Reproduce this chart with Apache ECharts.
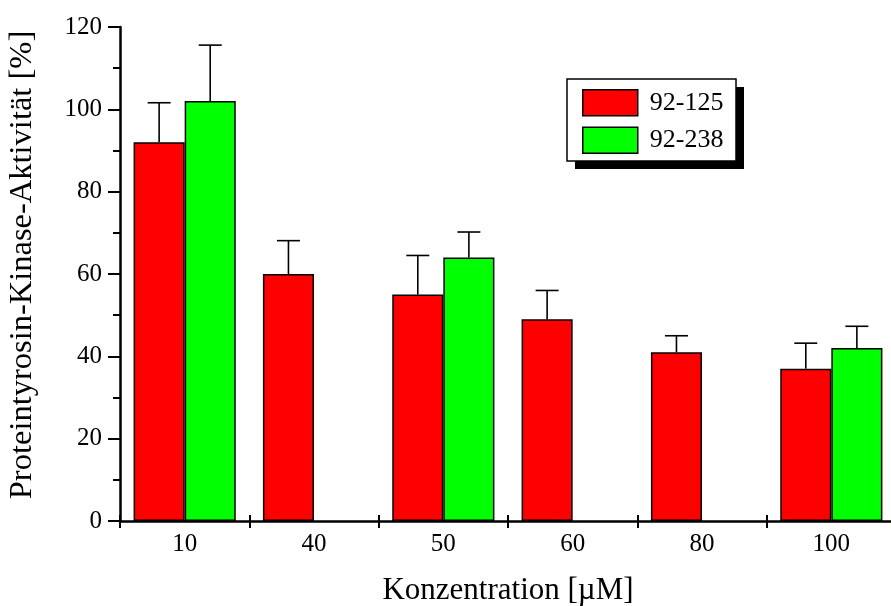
<!DOCTYPE html>
<html>
<head>
<meta charset="utf-8">
<title>Proteintyrosin-Kinase-Aktivität</title>
<script src="https://cdn.jsdelivr.net/npm/echarts@6/dist/echarts.min.js"></script>
<style>
  html, body { margin: 0; padding: 0; background: #ffffff; }
  #chart { width: 891px; height: 606px; }
</style>
</head>
<body>
<div id="chart"></div>
<script>
// Concentrations (µM) on the category axis
const concentrations = ['10', '40', '50', '60', '80', '100'];

// Kinase activity (%) and standard deviation per compound
const seriesNames = ['92-125', '92-238'];
const activity125 = [92, 60, 55, 49, 41, 37];
const error125    = [9.6, 8.1, 9.5, 7.0, 4.0, 6.2];
const activity238 = [102, null, 64, null, null, 42];
const error238    = [13.6, null, 6.2, null, null, 5.3];

// Y axis ticks
const yMin = 0, yMax = 120, yStep = 20;

const FONT = '"Liberation Serif", "Times New Roman", serif';
const BAR_FRACTION = 0.395;   // bar width as a share of the category band

// Legend frame with a hard drop shadow
const LEGEND_BOX = { x: 567, y: 79, w: 169, h: 82, shadow: 8 };

function errorData(values, errors) {
  const out = [];
  values.forEach(function (v, i) {
    if (v != null && errors[i] != null) out.push([i, v, errors[i]]);
  });
  return out;
}

// Draws a one-sided (upper) error bar on top of the bar of one series.
function errorRenderer(side) {
  return function (params, api) {
    const idx = api.value(0), val = api.value(1), err = api.value(2);
    const band = api.size([1, 0])[0];
    const bw = band * BAR_FRACTION;
    const cx = api.coord([idx, val])[0] + side * bw / 2;
    const yBase = api.coord([idx, val])[1];
    const yTop = api.coord([idx, val + err])[1];
    const half = 11.5;
    const style = { stroke: '#000', lineWidth: 1.6 };
    return {
      type: 'group',
      children: [
        { type: 'line', shape: { x1: cx, y1: yBase, x2: cx, y2: yTop }, style: style },
        { type: 'line', shape: { x1: cx - half, y1: yTop, x2: cx + half, y2: yTop }, style: style }
      ]
    };
  };
}

const chart = echarts.init(document.getElementById('chart'), null, { renderer: 'canvas' });

const option = {
  backgroundColor: '#ffffff',
  animation: false,
  textStyle: { fontFamily: FONT, color: '#000' },
  grid: { left: 120, right: -5, top: 27, bottom: 85, containLabel: false, outerBoundsMode: 'none' },
  graphic: [
    {
      type: 'rect',
      z: 1,
      shape: { x: LEGEND_BOX.x + LEGEND_BOX.shadow, y: LEGEND_BOX.y + LEGEND_BOX.shadow, width: LEGEND_BOX.w, height: LEGEND_BOX.h },
      style: { fill: '#000' }
    },
    {
      type: 'rect',
      z: 2,
      shape: { x: LEGEND_BOX.x, y: LEGEND_BOX.y, width: LEGEND_BOX.w, height: LEGEND_BOX.h },
      style: { fill: '#fff', stroke: '#000', lineWidth: 1.5 }
    }
  ],
  legend: {
    data: seriesNames,
    orient: 'vertical',
    left: 567,
    top: 79,
    z: 10,
    itemWidth: 55,
    itemHeight: 26,
    itemGap: 10,
    padding: [10, 12, 9, 15],
    backgroundColor: 'transparent',
    borderWidth: 0,
    icon: 'rect',
    itemStyle: { borderColor: '#000', borderWidth: 1.5 },
    textStyle: { fontFamily: FONT, fontSize: 26, color: '#000', padding: [0, 0, 0, 7] }
  },
  xAxis: [
    {
      type: 'category',
      data: concentrations,
      boundaryGap: true,
      name: 'Konzentration [µM]',
      nameLocation: 'middle',
      nameGap: 54,
      nameTextStyle: { fontFamily: FONT, fontSize: 31, color: '#000' },
      axisLine: { show: true, lineStyle: { color: '#000', width: 2.5 } },
      axisTick: { show: true, length: 7, lineStyle: { color: '#000', width: 2 } },
      axisLabel: { fontFamily: FONT, fontSize: 25, color: '#000', margin: 11 },
      splitLine: { show: false }
    },
    {
      // upper half of the crossing ticks on the category axis
      type: 'category',
      data: concentrations,
      boundaryGap: true,
      position: 'bottom',
      axisLine: { show: false },
      axisTick: { show: true, inside: true, length: 6, lineStyle: { color: '#000', width: 2 } },
      axisLabel: { show: false },
      splitLine: { show: false }
    }
  ],
  yAxis: {
    type: 'value',
    min: yMin,
    max: yMax,
    interval: yStep,
    name: 'Proteintyrosin-Kinase-Aktivität [%]',
    nameLocation: 'middle',
    nameGap: 81,
    nameRotate: 90,
    nameTextStyle: { fontFamily: FONT, fontSize: 32.5, color: '#000', padding: [0, 0, 0, 18] },
    axisLine: { show: true, lineStyle: { color: '#000', width: 2.5 } },
    axisTick: { show: true, length: 12, lineStyle: { color: '#000', width: 2 } },
    minorTick: { show: true, splitNumber: 2, length: 7, lineStyle: { color: '#000', width: 2 } },
    axisLabel: { fontFamily: FONT, fontSize: 25, color: '#000', margin: 18 },
    splitLine: { show: false },
    minorSplitLine: { show: false }
  },
  series: [
    {
      name: seriesNames[0],
      type: 'bar',
      data: activity125,
      barWidth: (BAR_FRACTION * 100) + '%',
      barGap: '0%',
      itemStyle: { color: '#ff0000', borderColor: '#000', borderWidth: 1.5 },
      z: 2
    },
    {
      name: seriesNames[1],
      type: 'bar',
      data: activity238.map(function (v) { return v == null ? '-' : v; }),
      barWidth: (BAR_FRACTION * 100) + '%',
      barGap: '0%',
      itemStyle: { color: '#00ff00', borderColor: '#000', borderWidth: 1.5 },
      z: 2
    },
    {
      type: 'custom',
      renderItem: errorRenderer(-1),
      data: errorData(activity125, error125),
      encode: { x: 0, y: 1 },
      z: 3,
      silent: true
    },
    {
      type: 'custom',
      renderItem: errorRenderer(1),
      data: errorData(activity238, error238),
      encode: { x: 0, y: 1 },
      z: 3,
      silent: true
    }
  ]
};

chart.setOption(option);
</script>
</body>
</html>
